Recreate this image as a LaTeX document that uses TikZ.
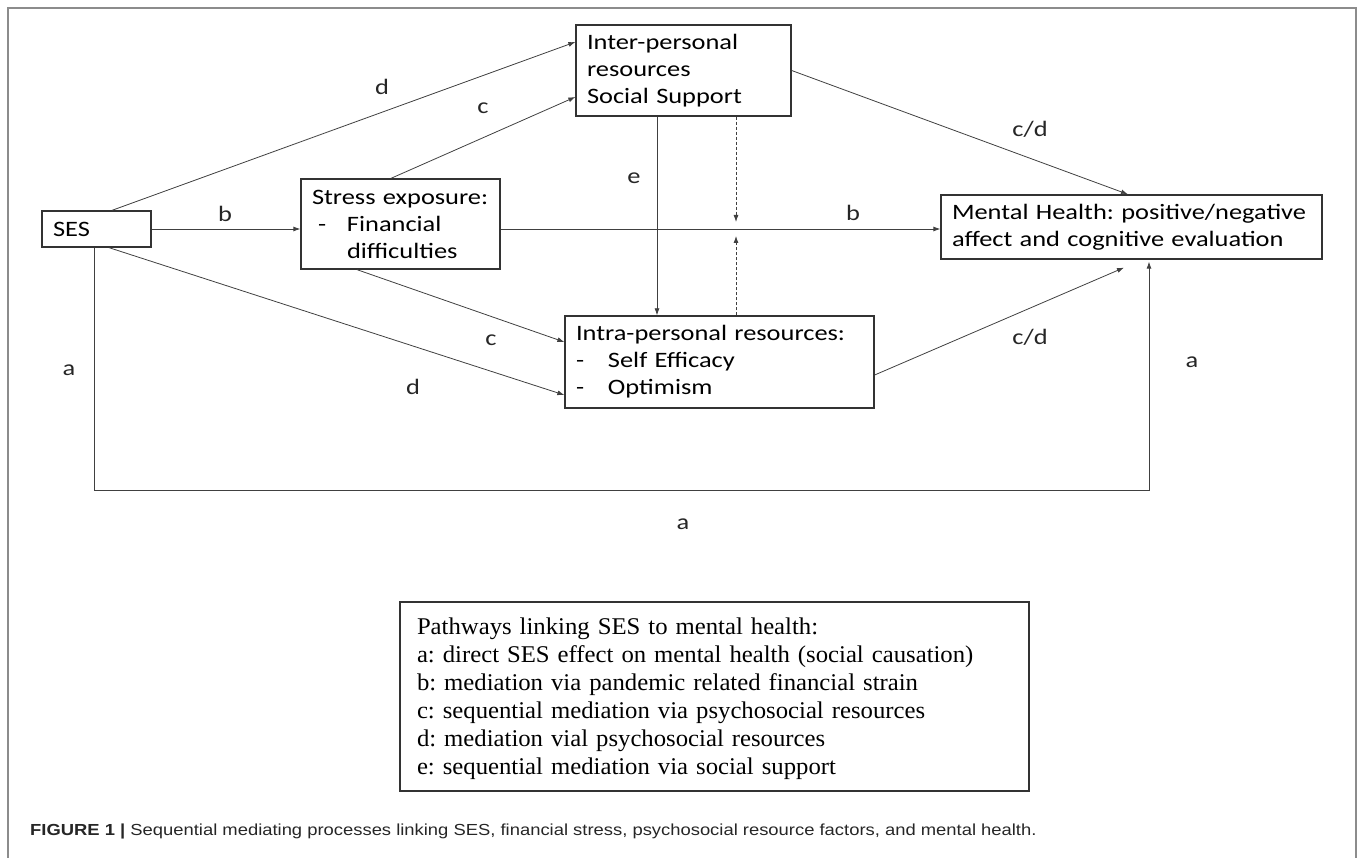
\documentclass[tikz,border=0pt]{standalone}
\usepackage{fontspec}
\setmainfont{Liberation Serif}
\newfontfamily\diagfont[FakeStretch=1.2]{Carlito}
\newfontfamily\legfont[FakeStretch=1.03]{Liberation Serif}
\newfontfamily\capfont[FakeStretch=1.15]{Liberation Sans}
\usetikzlibrary{arrows.meta,calc}
\frenchspacing
\tikzset{
  box/.style={draw=black!80, line width=1.3pt, rectangle, inner xsep=11pt, inner ysep=0pt,
    font=\diagfont\fontsize{22}{27}\selectfont, align=left, anchor=center},
  conn/.style={draw=black!75, line width=0.8pt, -{Latex[length=7pt,width=5pt]}},
  dashconn/.style={conn, dash pattern=on 3pt off 2pt},
  lbl/.style={font=\diagfont\fontsize{22}{27}\selectfont, inner sep=0pt, text=black!85},
  legbox/.style={draw=black!80, line width=1.3pt, rectangle, inner xsep=17pt, inner ysep=0pt,
    font=\legfont\fontsize{24}{28}\selectfont, align=left, anchor=center},
}
\begin{document}
\frenchspacing
\begin{tikzpicture}[x=1pt,y=-1pt]
\useasboundingbox (0,0) rectangle (1358,858);
\draw[black!45, line width=1.5pt] (8,858) -- (8,8) -- (1356,8) -- (1356,858);

\node[box, minimum width=109pt, minimum height=36pt, text width=87pt] (ses) at (96.5,229) {SES};
\node[box, minimum width=199pt, minimum height=90pt, text width=177pt] (stress) at (400.5,224)
  {\mbox{Stress exposure:}\\\makebox[35pt][l]{\hspace{6pt}-}Financial\\\hspace*{35pt}difficulties};
\node[box, minimum width=215pt, minimum height=91pt, text width=193pt] (inter) at (683.5,70.5)
  {Inter-personal\\resources\\\mbox{Social Support}};
\node[box, minimum width=381pt, minimum height=64pt, text width=359pt] (mh) at (1131.5,227)
  {\mbox{Mental Health: positive/negative}\\\mbox{affect and cognitive evaluation}};
\node[box, minimum width=309pt, minimum height=92pt, text width=287pt] (intra) at (719.5,362)
  {\mbox{Intra-personal resources:}\\\makebox[32pt][l]{-}Self Efficacy\\\makebox[32pt][l]{-}Optimism};

\coordinate (mod) at ([xshift=52.5pt]inter.south |- ses.east);
\coordinate (abot) at (0,490);

\draw[conn] ([xshift=15.5pt]ses.north) -- ([yshift=28.5pt]inter.west);
\draw[conn] ([xshift=-9.5pt]stress.north) -- ([yshift=-26.5pt]inter.west);
\draw[conn] (ses.east) -- (ses.east -| stress.west);
\draw[conn] (ses.east -| stress.east) -- (ses.east -| mh.west);
\draw[conn] ([xshift=12.5pt]ses.south) -- ([yshift=-33pt]intra.west);
\draw[conn] ([xshift=-43.5pt]stress.south) -- ([yshift=20pt]intra.west);
\draw[conn] ([xshift=-26.5pt]inter.south) -- ([xshift=-26.5pt]inter.south |- intra.north);
\draw[dashconn] ([xshift=52.5pt]inter.south) -- ([yshift=7pt]mod);
\draw[dashconn] (intra.north -| mod) -- ([yshift=-7pt]mod);
\draw[conn] (inter.east) -- ([xshift=-3.5pt]mh.north);
\draw[conn] ([yshift=-13pt]intra.east) -- ([xshift=-7.5pt,yshift=-8pt]mh.south);
\draw[conn] ([xshift=-2.5pt]ses.south) |- ([xshift=17.5pt]mh.south |- abot) -- ([xshift=17.5pt,yshift=-2pt]mh.south);

\node[lbl] (ld1) at (382,87) {d};
\node[lbl] (lc1) at (483,108) {c};
\node[lbl] (lb1) at (225,214) {b};
\node[lbl] (le) at (634,178) {e};
\node[lbl] (lb2) at (853,213) {b};
\node[lbl] (lcd1) at (1030,129) {c/d};
\node[lbl] (lc2) at (491,340) {c};
\node[lbl] (ld2) at (413,387) {d};
\node[lbl] (lcd2) at (1030,337) {c/d};
\node[lbl] (la1) at (69,370) {a};
\node[lbl] (la2) at (1192,362) {a};
\node[lbl] (la3) at (683,524) {a};

\node[legbox, minimum width=629pt, minimum height=189pt, text width=595pt] (legend) at (714.5,696.5)
  {\rule{0pt}{21pt}Pathways linking SES to mental health:\\
   a: direct SES effect on mental health (social causation)\\
   b: mediation via pandemic related financial strain\\
   c: sequential mediation via psychosocial resources\\
   d: mediation vial psychosocial resources\\
   e: sequential mediation via social support};

\node[anchor=west, inner sep=0pt, font=\capfont\fontsize{16}{18}\selectfont, text=black!85] (caption) at (30,831)
  {\textbf{FIGURE 1 |} Sequential mediating processes linking SES, financial stress, psychosocial resource factors, and mental health.};
\end{tikzpicture}
\end{document}
